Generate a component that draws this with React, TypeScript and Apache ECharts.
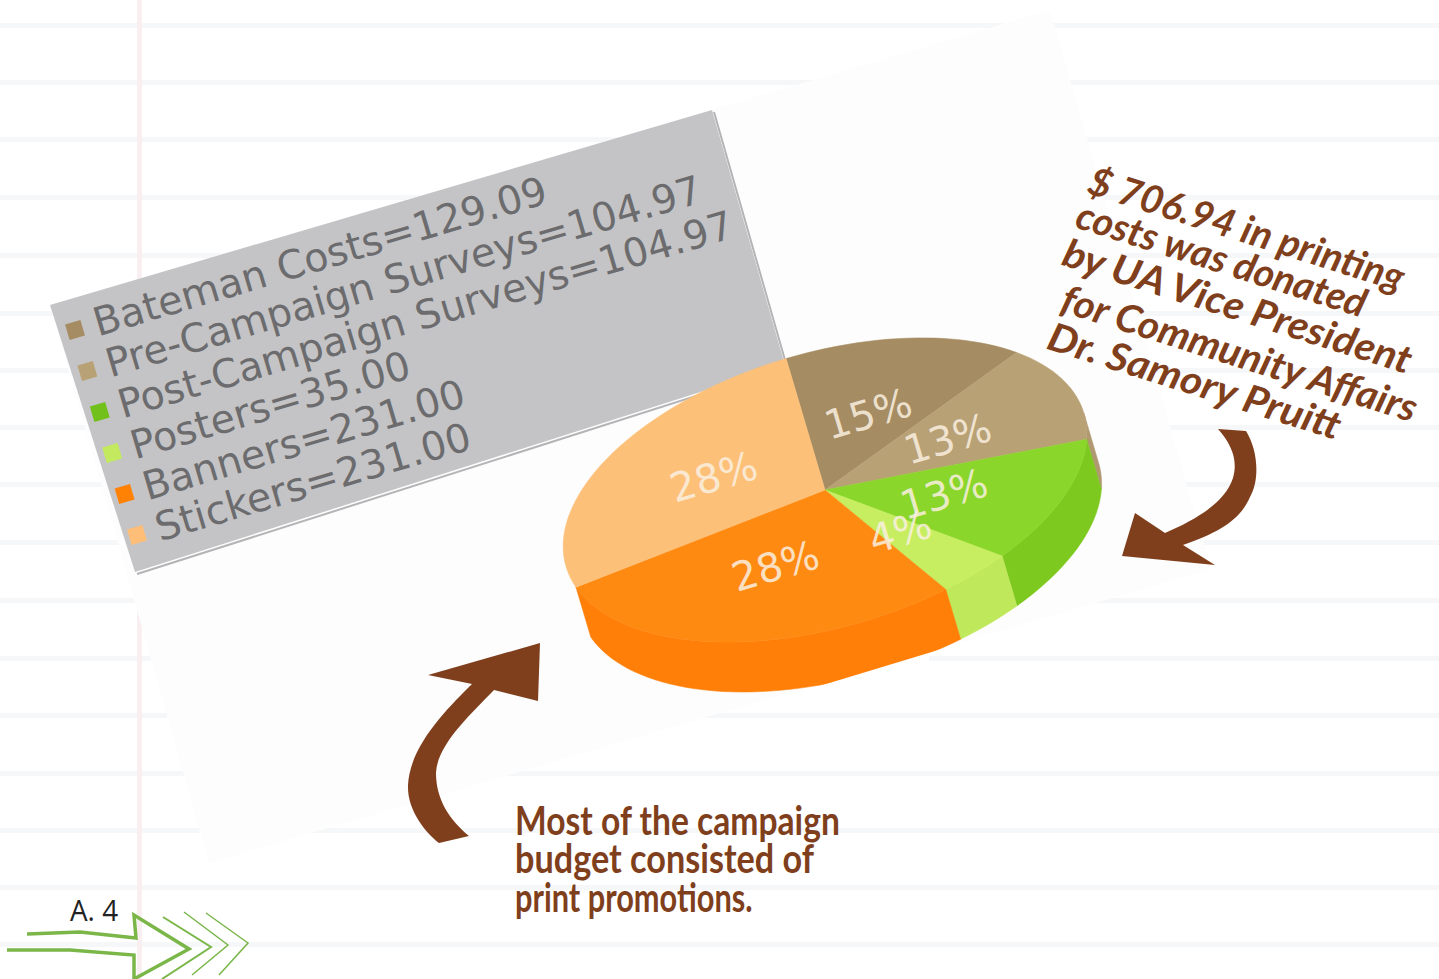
import React, { useEffect, useRef } from "react";
import * as echarts from "echarts";

const categories = [
  "Bateman Costs",
  "Pre-Campaign Surveys",
  "Post-Campaign Surveys",
  "Posters",
  "Banners",
  "Stickers",
];
const amounts = [129.09, 104.97, 104.97, 35.0, 231.0, 231.0];
const topColors = ["#a58c62", "#b9a176", "#8bd62a", "#c7ee60", "#ff8a12", "#fdc078"];
const sideColors = ["#9d845a", "#b09870", "#7ec91f", "#bfe85a", "#ff7f08", "#f9bb74"];
const swatchColors = ["#a58c62", "#b9a176", "#72c01c", "#c3ea5f", "#ff8205", "#ffbe78"];

const noteLines = [
  "$ 706.94 in printing",
  "costs was donated",
  "by UA Vice President",
  "for Community Affairs",
  "Dr. Samory Pruitt",
];
const budgetLines = ["Most of the campaign", "budget consisted of", "print promotions."];
const ruledRows = [23, 80, 137, 195, 253, 311, 368, 425, 482, 540, 598, 656, 713, 771, 828, 885, 942];

const BROWN = "#803f1c";
const PAPER = "#fdfdfd";
const RULE = "#f5f7f9";
const TILT = (16.5 * Math.PI) / 180;

// Pie disc seen at an angle: ellipse radii, extrusion depth and apex on the page.
const RX = 270;
const RY = 137;
const DEPTH = 52;
const APEX = [825, 490];

const total = amounts.reduce((a, b) => a + b, 0);
const rim = (t: number, drop = 0) => [RX * Math.sin(t), -RY * Math.cos(t) + drop];

function sliceAngles(i: number, value: number) {
  const before = amounts.slice(0, i).reduce((a, b) => a + b, 0);
  return [(before / total) * Math.PI * 2, ((before + value) / total) * Math.PI * 2];
}

function arcPoints(from: number, to: number, drop = 0) {
  const steps = Math.max(2, Math.ceil(Math.abs(to - from) / 0.04));
  const out: number[][] = [];
  for (let i = 0; i <= steps; i++) out.push(rim(from + ((to - from) * i) / steps, drop));
  return out;
}

const renderSlice = (params: any, api: any) => {
  const i = params.dataIndex;
  const [t0, t1] = sliceAngles(i, api.value(0));
  const children: any[] = [];

  // Only the part of the rim facing the viewer shows a side wall; the closing
  // slice sits behind the neighbouring wall and has none of its own.
  const s0 = Math.max(t0, Math.PI / 2);
  const s1 = Math.min(t1, (Math.PI * 3) / 2);
  if (s1 > s0 && i < amounts.length - 1) {
    children.push({
      type: "polygon",
      shape: { points: [...arcPoints(s0, s1), ...arcPoints(s1, s0, DEPTH)] },
      style: { fill: sideColors[i], stroke: sideColors[i], lineWidth: 0.5 },
    });
  }
  children.push({
    type: "polygon",
    shape: { points: [[0, 0], ...arcPoints(t0, t1)] },
    style: { fill: topColors[i], stroke: topColors[i], lineWidth: 0.5 },
  });
  return { type: "group", x: APEX[0], y: APEX[1], rotation: TILT, children };
};

// Percent labels live in their own series so no later slice paints over them.
const renderPercent = (params: any, api: any) => {
  const value = api.value(0);
  const [t0, t1] = sliceAngles(params.dataIndex, value);
  const [lx, ly] = rim((t0 + t1) / 2);
  return {
    type: "group",
    x: APEX[0],
    y: APEX[1],
    rotation: TILT,
    children: [
      {
        type: "text",
        x: lx * 0.5,
        y: ly * 0.5,
        style: {
          text: `${Math.round((value / total) * 100)}%`,
          fill: "rgba(250,240,225,0.85)",
          font: '40px "DejaVu Sans"',
          align: "center",
          verticalAlign: "middle",
        },
      },
    ],
  };
};

echarts.graphic.registerShape(
  "arrowToPie",
  echarts.graphic.extendPath(
    "M540,643 L428,675 L472,684 C448,708 410,745 408,785 C407,810 425,832 439,843 L469,836 C450,820 436,800 436,773 C437,745 470,715 494,690 L538,701 Z",
    {}
  )
);
echarts.graphic.registerShape(
  "arrowToGreen",
  echarts.graphic.extendPath(
    "M1218,429 L1246,431 C1258,450 1260,480 1250,497 C1240,520 1220,532 1183,545 L1215,565 L1122,556 L1135,513 L1165,533 C1195,520 1225,503 1233,478 C1238,460 1232,445 1218,429 Z",
    {}
  )
);

function backdrop() {
  const items: any[] = [];
  ruledRows.forEach((y) =>
    items.push({ type: "rect", z: 0, shape: { x: 0, y, width: 1439, height: 5 }, style: { fill: RULE }, silent: true })
  );
  items.push({ type: "rect", z: 0, shape: { x: 137, y: 0, width: 5, height: 979 }, style: { fill: "#f9eef0" }, silent: true });
  items.push({
    type: "polygon",
    z: 1,
    shape: { points: [[50, 305], [1050, 10], [1211, 569], [209, 863]] },
    style: { fill: PAPER },
    silent: true,
  });
  return items;
}

function legendPanel() {
  const items: any[] = [
    { type: "polyline", z: 1, shape: { points: [[714, 112], [787, 367], [137, 574]] }, style: { stroke: "#b4b4b6", fill: "none", lineWidth: 2 } },
    { type: "polygon", z: 1, shape: { points: [[50, 305], [712, 110], [785, 365], [135, 572]] }, style: { fill: "#c4c4c6" } },
  ];
  categories.forEach((name, i) => {
    items.push({
      type: "rect",
      z: 1,
      x: 75 + 12.4 * i,
      y: 330 + 41 * i,
      rotation: TILT,
      shape: { x: -8, y: -8, width: 16, height: 16 },
      style: { fill: swatchColors[i] },
    });
    items.push({
      type: "text",
      z: 1,
      x: 94 + 12.4 * i,
      y: 323 + 41 * i,
      rotation: TILT,
      style: {
        text: `${name}=${amounts[i].toFixed(2)}`,
        fill: "#6c6c6e",
        font: '39.5px "DejaVu Sans"',
        align: "left",
        verticalAlign: "middle",
      },
    });
  });
  return items;
}

function annotations() {
  const items: any[] = [
    // Paper edge trims the bottom of the disc.
    { type: "polygon", z: 5, shape: { points: [[780, 698], [968, 641], [968, 705], [780, 705]] }, style: { fill: "#ffffff" } },
    { type: "rect", z: 5, shape: { x: 929, y: 656, width: 60, height: 5 }, style: { fill: RULE } },
    { type: "arrowToPie", z: 5, x: 0, y: 0, style: { fill: BROWN } },
    { type: "arrowToGreen", z: 5, x: 0, y: 0, style: { fill: BROWN } },
  ];
  const noteCentres = [
    [1247, 228],
    [1222, 258],
    [1238, 305],
    [1240, 352],
    [1195, 380],
  ];
  const noteStretch = [1, 1, 1.07, 1.03, 1.08];
  noteLines.forEach((text, i) =>
    items.push({
      type: "text",
      z: 5,
      x: noteCentres[i][0],
      y: noteCentres[i][1],
      scaleX: noteStretch[i],
      rotation: (-17.5 * Math.PI) / 180,
      style: { text, fill: BROWN, font: "italic 700 39px Lato", align: "center", verticalAlign: "middle" },
    })
  );
  const budgetStretch = [0.82, 0.835, 0.75];
  budgetLines.forEach((text, i) =>
    items.push({
      type: "text",
      z: 5,
      x: 515,
      y: 819 + 38.5 * i,
      scaleX: budgetStretch[i],
      style: { text, fill: BROWN, font: "700 41px Lato", align: "left", verticalAlign: "middle" },
    })
  );
  items.push({
    type: "text",
    z: 5,
    x: 70,
    y: 910,
    scaleX: 0.96,
    style: { text: "A. 4", fill: "#222222", font: '29px "Open Sans"', align: "left", verticalAlign: "middle" },
  });
  const green = "#7ab648";
  items.push(
    {
      type: "polyline",
      z: 5,
      shape: { points: [[27, 934], [80, 932], [136, 938], [134, 915], [189, 949], [134, 979], [134, 955], [70, 950], [7, 950]] },
      style: { stroke: green, fill: "none", lineWidth: 3.5 },
    },
    { type: "polyline", z: 5, shape: { points: [[163, 917], [211, 947], [162, 979]] }, style: { stroke: green, fill: "none", lineWidth: 2 } },
    { type: "polyline", z: 5, shape: { points: [[184, 912], [228, 945], [192, 975]] }, style: { stroke: green, fill: "none", lineWidth: 1.5 } },
    { type: "polyline", z: 5, shape: { points: [[206, 913], [248, 943], [219, 975]] }, style: { stroke: green, fill: "none", lineWidth: 1.5 } }
  );
  return items;
}

export default function App() {
  const ref = useRef<HTMLDivElement>(null);
  useEffect(() => {
    const chart = echarts.init(ref.current!, undefined, { renderer: "svg" });
    const pieData = amounts.map((value, i) => ({ name: categories[i], value }));
    chart.setOption({
      animation: false,
      backgroundColor: "#ffffff",
      graphic: { elements: [...backdrop(), ...legendPanel(), ...annotations()] },
      series: [
        { type: "custom", coordinateSystem: "none", z: 3, silent: true, renderItem: renderSlice, data: pieData },
        { type: "custom", coordinateSystem: "none", z: 4, silent: true, renderItem: renderPercent, data: pieData },
      ],
    });
    return () => chart.dispose();
  }, []);
  return <div ref={ref} style={{ position: "absolute", left: 0, top: 0, width: 1439, height: 979 }} />;
}
